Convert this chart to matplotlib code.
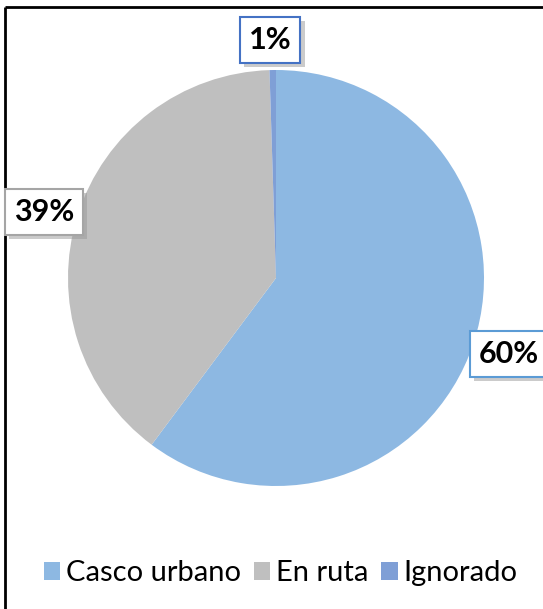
import matplotlib.pyplot as plt
import matplotlib.patheffects as pe
from matplotlib.patches import Patch

categories = ["Casco urbano", "En ruta", "Ignorado"]
values = [60.2, 39.3, 0.5]
labels = ["60%", "39%", "1%"]
colors = ["#8DB8E2", "#BFBFBF", "#7F9FD6"]
edge_colors = ["#5B9BD5", "#A5A5A5", "#4472C4"]

plt.rcParams['font.family'] = ['Lato', 'DejaVu Sans']

fig = plt.figure(figsize=(5.43, 6.09), dpi=100)
ax = fig.add_axes([0, 0, 1, 1])

wedges, _ = ax.pie(values, colors=colors, startangle=90, counterclock=False,
                   center=(276, 331), radius=208, frame=True)
ax.set_xlim(0, 543)
ax.set_ylim(0, 609)
ax.set_aspect('equal')
ax.axis('off')

# data labels in boxes with a soft shadow
label_pos = [(509, 255), (44, 397), (270, 569)]
for (x, y), txt, ec in zip(label_pos, labels, edge_colors):
    t = ax.text(x, y, txt, fontsize=22, fontweight='bold', ha='center', va='center',
                color='black',
                bbox=dict(boxstyle='square,pad=0.3', fc='white', ec=ec, lw=1.5))
    t.get_bbox_patch().set_path_effects([
        pe.SimplePatchShadow(offset=(3, -3), shadow_rgbFace='#999999', alpha=0.5),
        pe.Normal()])

# chart frame (top and left edges visible)
ax.plot([5, 543], [602, 602], color='black', lw=2, solid_capstyle='butt')
ax.plot([5, 5], [0, 602], color='black', lw=2, solid_capstyle='butt')

handles = [Patch(facecolor=c, edgecolor='none') for c in colors]
fig.legend(handles, categories, loc='center', bbox_to_anchor=(0.517, 0.059),
           ncol=3, frameon=False, fontsize=21, handlelength=0.55, handleheight=0.55,
           handletextpad=0.2, columnspacing=0.45)

fig.savefig("out.png", dpi=100)
